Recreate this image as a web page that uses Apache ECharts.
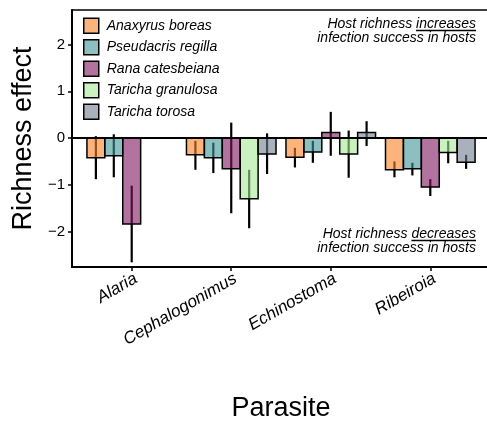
<!DOCTYPE html>
<html>
<head>
<meta charset="utf-8">
<script src="https://cdn.jsdelivr.net/npm/echarts@6/dist/echarts.min.js"></script>
<style>
  html, body { margin: 0; padding: 0; background: #fff; }
  #chart { width: 487px; height: 421px; }
</style>
</head>
<body>
<div id="chart"></div>
<script>
const categories = ['Alaria', 'Cephalogonimus', 'Echinostoma', 'Ribeiroia'];
const hosts = ['Anaxyrus boreas', 'Pseudacris regilla', 'Rana catesbeiana', 'Taricha granulosa', 'Taricha torosa'];
const yTicks = [-2, -1, 0, 1, 2];

// mean richness effect per parasite (null = host not sampled)
const anaxyrusEffect = [-0.42, -0.36, -0.41, -0.68];
const pseudacrisEffect = [-0.38, -0.42, -0.30, -0.66];
const ranaEffect = [-1.84, -0.66, 0.12, -1.05];
const granulosaEffect = [null, -1.30, -0.34, -0.31];
const torosaEffect = [null, -0.34, 0.12, -0.52];

// [lower, upper] of the interval
const anaxyrusInterval = [[-0.88, 0.04], [-0.68, -0.06], [-0.63, -0.21], [-0.84, -0.50]];
const pseudacrisInterval = [[-0.84, 0.08], [-0.75, -0.10], [-0.53, -0.06], [-0.80, -0.53]];
const ranaInterval = [[-2.66, -1.02], [-1.61, 0.33], [-0.38, 0.56], [-1.24, -0.88]];
const granulosaInterval = [null, [-1.93, -0.68], [-0.85, 0.16], [-0.54, -0.06]];
const torosaInterval = [null, [-0.77, 0.10], [-0.17, 0.36], [-0.66, -0.36]];

const colors = [
  'rgba(252, 130, 37, 0.6)',
  'rgba(63, 148, 148, 0.6)',
  'rgba(128, 22, 95, 0.6)',
  'rgba(165, 233, 148, 0.6)',
  'rgba(112, 125, 143, 0.6)',
];

const effects = [anaxyrusEffect, pseudacrisEffect, ranaEffect, granulosaEffect, torosaEffect];
const intervals = [anaxyrusInterval, pseudacrisInterval, ranaInterval, granulosaInterval, torosaInterval];

const FONT = '"Liberation Sans", Arial, Helvetica, sans-serif';
const barWidth = 0.18;

function renderBar(params, api) {
  const slot = params.seriesIndex;
  const xv = api.value(0) + (slot - 2) * barWidth;
  const base = api.coord([xv, 0]);
  const top = api.coord([xv, api.value(1)]);
  const lo = api.coord([xv, api.value(2)]);
  const hi = api.coord([xv, api.value(3)]);
  const w = api.size([barWidth, 0])[0];
  return {
    type: 'group',
    children: [
      {
        type: 'line',
        shape: {x1: base[0], y1: lo[1], x2: base[0], y2: hi[1]},
        style: {stroke: '#000', lineWidth: 2.2},
      },
      {
        type: 'rect',
        shape: {
          x: base[0] - w / 2,
          y: Math.min(base[1], top[1]),
          width: w,
          height: Math.abs(top[1] - base[1]),
        },
        style: {fill: api.visual('color'), stroke: '#000', lineWidth: 1.5},
      },
    ],
  };
}

const series = hosts.map((host, i) => {
  const data = [];
  effects[i].forEach((v, c) => {
    if (v === null) {
      return;
    }
    data.push([c + 1, v, intervals[i][c][0], intervals[i][c][1]]);
  });
  const serie = {
    type: 'custom',
    name: host,
    renderItem: renderBar,
    itemStyle: {color: colors[i], borderColor: '#000', borderWidth: 1.5},
    encode: {x: 0, y: [1, 2, 3]},
    data: data,
    z: 2 + i,
  };
  if (i === 0) {
    serie.markLine = {
      silent: true,
      symbol: 'none',
      label: {show: false},
      lineStyle: {color: '#000', width: 1.8, type: 'solid'},
      data: [{yAxis: 0}],
      z: 10,
    };
  }
  return serie;
});

// annotation texts with underlined word
const annotFont = 'italic 14px ' + FONT;
const measure = document.createElement('canvas').getContext('2d');
measure.font = annotFont;
function textWidth(s) {
  return measure.measureText(s).width;
}
const annotRight = 476;
function annotation(line1Head, word, line2, y) {
  const underlineStart = annotRight - textWidth(word);
  return [
    {
      type: 'text', x: annotRight, y: y,
      style: {text: line1Head + word, font: annotFont, fill: '#000', textAlign: 'right', textVerticalAlign: 'middle'},
    },
    {
      type: 'line',
      shape: {x1: underlineStart, y1: y + 6.5, x2: annotRight, y2: y + 6.5},
      style: {stroke: '#000', lineWidth: 1.3},
    },
    {
      type: 'text', x: annotRight, y: y + 14,
      style: {text: line2, font: annotFont, fill: '#000', textAlign: 'right', textVerticalAlign: 'middle'},
    },
  ];
}

const chart = echarts.init(document.getElementById('chart'), null, {renderer: 'canvas'});
chart.setOption({
  animation: false,
  backgroundColor: '#fff',
  textStyle: {fontFamily: FONT},
  grid: {
    left: 72, right: -3, top: 10, bottom: 154,
    outerBoundsMode: 'none',
    containLabel: false,
    show: true, borderColor: '#000', borderWidth: 1.5, backgroundColor: 'transparent',
  },
  legend: {
    data: hosts,
    orient: 'vertical',
    left: 83,
    top: 17.5,
    padding: 0,
    icon: 'rect',
    itemWidth: 15,
    itemHeight: 15,
    itemGap: 5,
    itemStyle: {borderColor: '#000', borderWidth: 1.5},
    textStyle: {fontFamily: FONT, fontStyle: 'italic', fontSize: 14, color: '#000', padding: [0, 0, 0, 3]},
    selectedMode: false,
  },
  xAxis: {
    type: 'value',
    min: 0.4,
    max: 4.6,
    name: 'Parasite',
    nameLocation: 'middle',
    nameGap: 128,
    nameTextStyle: {fontFamily: FONT, fontSize: 27, color: '#000'},
    splitLine: {show: false},
    axisLine: {show: true, onZero: false, lineStyle: {color: '#000', width: 2}},
    axisTick: {show: true, customValues: [1, 2, 3, 4], length: 4, lineStyle: {color: '#000', width: 1.5}},
    axisLabel: {
      customValues: [1, 2, 3, 4],
      rotate: 30,
      margin: 3,
      verticalAlign: 'top',
      fontFamily: FONT,
      fontStyle: 'italic',
      fontSize: 17,
      color: '#000',
      formatter: v => categories[Math.round(v) - 1],
    },
  },
  yAxis: {
    type: 'value',
    min: -2.76,
    max: 2.74,
    name: 'Richness effect',
    nameLocation: 'middle',
    nameGap: 35,
    nameTextStyle: {fontFamily: FONT, fontSize: 27, color: '#000'},
    splitLine: {show: false},
    axisLine: {show: true, onZero: false, lineStyle: {color: '#000', width: 2}},
    axisTick: {show: true, customValues: yTicks, length: 4, lineStyle: {color: '#000', width: 1.5}},
    axisLabel: {
      customValues: yTicks,
      margin: 7,
      fontFamily: FONT,
      fontSize: 15,
      color: '#000',
      formatter: v => String(v).replace('-', '\u2212'),
    },
  },
  graphic: [].concat(
    annotation('Host richness ', 'increases', 'infection success in hosts', 24),
    annotation('Host richness ', 'decreases', 'infection success in hosts', 234)
  ),
  series: series,
});
</script>
</body>
</html>
